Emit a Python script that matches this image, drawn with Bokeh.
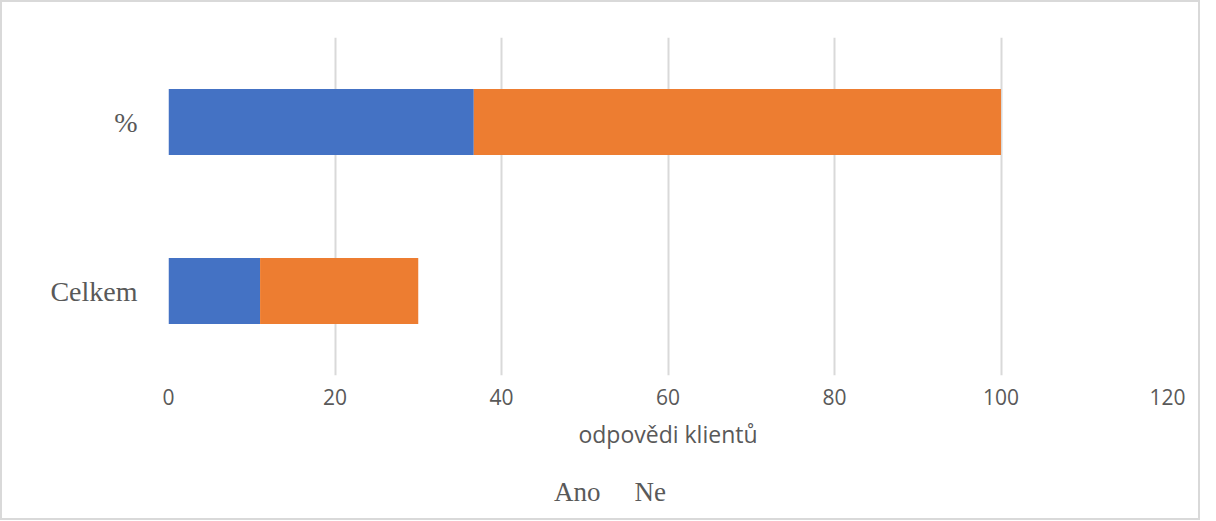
from bokeh.plotting import figure
from bokeh.layouts import column
from bokeh.models import FactorRange, Range1d, Legend, LegendItem
from bokeh.embed import file_html
from bokeh.resources import INLINE

categories = ["Celkem", "%"]
series_names = ["Ano", "Ne"]
ano = [11, 36.67]
ne = [19, 63.33]
colors = ["#4472C4", "#ED7D31"]
x_ticks = [0, 20, 40, 60, 80, 100, 120]

data = dict(cat=categories, Ano=ano, Ne=ne)

p = figure(y_range=FactorRange(*categories, range_padding=0),
           x_range=Range1d(0, 120),
           frame_width=999, frame_height=338,
           output_backend="svg", toolbar_location=None,
           min_border_left=166, min_border_right=31, min_border_top=35,
           min_border_bottom=0)
p.outline_line_color = None

rs = p.hbar_stack(series_names, y="cat", height=0.39, color=colors, source=data,
                  line_color=None)

p.xaxis.ticker = x_ticks
p.xaxis.axis_line_color = None
p.xaxis.major_tick_line_color = None
p.xaxis.minor_tick_line_color = None
p.xaxis.major_label_text_font = "Open Sans"
p.xaxis.major_label_text_font_size = "21px"
p.xaxis.major_label_text_color = "#595959"
p.xaxis.major_label_standoff = 7
p.xaxis.axis_label = "odpovědi klientů"
p.xaxis.axis_label_text_font = "Open Sans"
p.xaxis.axis_label_text_font_style = "normal"
p.xaxis.axis_label_text_font_size = "23px"
p.xaxis.axis_label_text_color = "#595959"
p.xaxis.axis_label_standoff = 10

p.yaxis.axis_line_color = None
p.yaxis.major_tick_line_color = None
p.yaxis.minor_tick_line_color = None
p.yaxis.major_label_text_font = "Liberation Serif"
p.yaxis.major_label_text_font_size = "28px"
p.yaxis.major_label_text_color = "#595959"
p.yaxis.major_label_standoff = 25

p.xgrid.grid_line_color = "#d9d9d9"
p.xgrid.grid_line_width = 2
p.ygrid.grid_line_color = None

# Legend strip below the chart (separate small figure so the legend is not clipped)
pl = figure(x_range=Range1d(0, 1), y_range=Range1d(0, 1),
            frame_width=999, frame_height=66,
            output_backend="svg", toolbar_location=None,
            x_axis_type=None, y_axis_type=None,
            min_border_left=166, min_border_right=31, min_border_top=0,
            min_border_bottom=0)
pl.outline_line_color = None
pl.xgrid.visible = False
pl.ygrid.visible = False
swatches = [pl.hbar(y=[], right=[], height=0.5, color=c, line_color=None) for c in colors]

legend = Legend(items=[LegendItem(label=n, renderers=[r]) for n, r in zip(series_names, swatches)],
                orientation="horizontal", location=(372, 10),
                label_text_font="Liberation Serif", label_text_font_size="27px",
                label_text_color="#595959", glyph_width=11, glyph_height=11,
                border_line_color=None, background_fill_alpha=0, spacing=20,
                label_standoff=3, margin=0, padding=0)
pl.add_layout(legend, "center")

layout = column(p, pl, spacing=0)
layout.styles = {"border": "2px solid #d9d9d9"}

open("out.html", "w").write(file_html(layout, INLINE))
